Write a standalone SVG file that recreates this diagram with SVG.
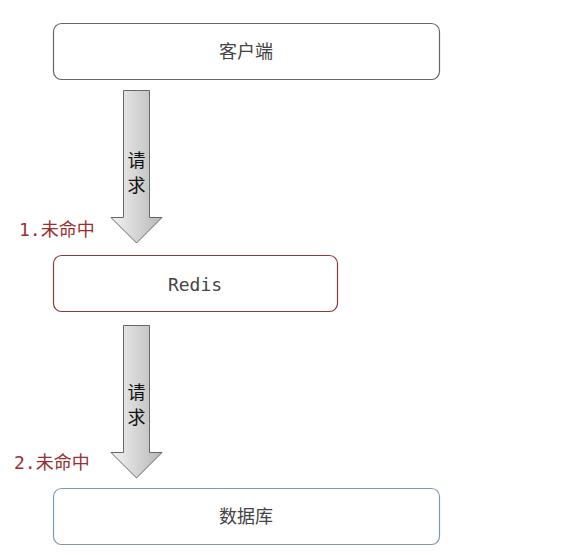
<svg xmlns="http://www.w3.org/2000/svg" width="566" height="555" viewBox="0 0 566 555">
<style>
.box{fill:#fff;stroke-width:1.2}
.lbl{font-family:"Noto Sans","Noto Sans CJK SC",sans-serif;font-size:18px;fill:#444;text-anchor:middle;dominant-baseline:central}
.mono{font-family:"DejaVu Sans Mono","Liberation Mono","Noto Sans CJK SC",monospace;font-size:18px;fill:#444;text-anchor:middle;dominant-baseline:central}
.miss{font-family:"DejaVu Sans Mono","Noto Sans CJK SC",monospace;font-size:18px;fill:#9b2f2f}
.arr{fill:url(#g);stroke:#666;stroke-width:1}
.req{font-family:"Noto Sans CJK SC",sans-serif;font-size:18px;fill:#111;text-anchor:middle}
</style>
<defs>
<linearGradient id="g" x1="0" y1="0" x2="1" y2="0">
<stop offset="0" stop-color="#f2f2f2"/>
<stop offset="1" stop-color="#b8b8b8"/>
</linearGradient>
</defs>
<rect width="566" height="555" fill="#fff"/>
<g id="client"><rect class="box" x="53.5" y="23.5" width="386" height="56" rx="8" stroke="#666"/><text class="lbl" x="246" y="51">客户端</text></g>
<g id="redis"><rect class="box" x="53.5" y="255.5" width="284" height="56" rx="8" stroke="#8b3a3a"/><text class="mono" x="195" y="284">Redis</text></g>
<g id="db"><rect class="box" x="53.5" y="488.5" width="386" height="56" rx="8" stroke="#7f99b3"/><text class="lbl" x="246" y="516">数据库</text></g>
<g id="connectors">
<path class="arr" d="M123.5 90.5 H149.5 V217.5 H162 L136.5 243 L111 217.5 H123.5 Z"/>
<text class="req" x="136.5" y="167">请</text><text class="req" x="136.5" y="192">求</text>
<path class="arr" d="M123.5 325.5 H149.5 V452.5 H162 L136.5 478 L111 452.5 H123.5 Z"/>
<text class="req" x="136.5" y="399">请</text><text class="req" x="136.5" y="424">求</text>
<text class="miss" x="19" y="236">1.未命中</text>
<text class="miss" x="14" y="469">2.未命中</text>
</g>
</svg>
